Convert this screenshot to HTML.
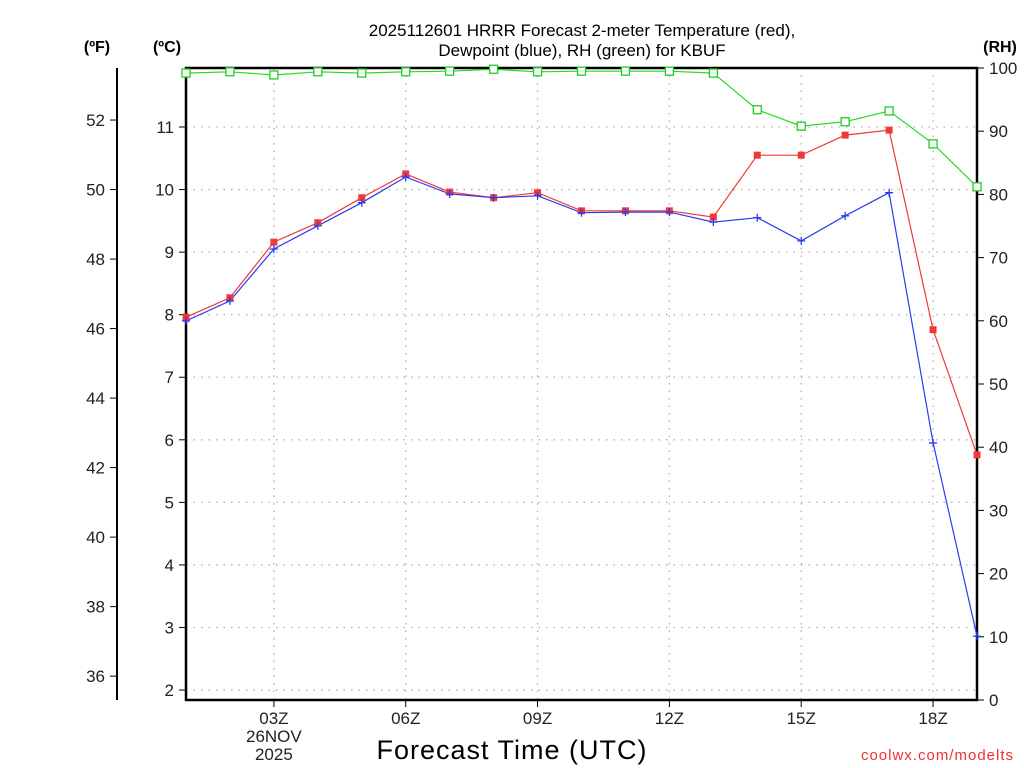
<!DOCTYPE html>
<html><head><meta charset="utf-8"><style>
html,body{margin:0;padding:0;background:#fff;}
svg{display:block;font-family:"Liberation Sans","DejaVu Sans",sans-serif;}
</style></head><body>
<svg id="chart" width="1024" height="768" viewBox="0 0 1024 768" xmlns="http://www.w3.org/2000/svg">
<text x="582" y="36" text-anchor="middle" font-size="17" fill="#000">2025112601 HRRR Forecast 2-meter Temperature (red),</text>
<text x="582" y="56" text-anchor="middle" font-size="17" fill="#000">Dewpoint (blue), RH (green) for KBUF</text>
<text x="97" y="52" text-anchor="middle" font-size="16" font-weight="bold">(ºF)</text>
<text x="167" y="52" text-anchor="middle" font-size="16" font-weight="bold">(ºC)</text>
<text x="1000" y="52" text-anchor="middle" font-size="16" font-weight="bold">(RH)</text>
<text x="512" y="759" text-anchor="middle" font-size="27" letter-spacing="1">Forecast Time (UTC)</text>
<text x="1014" y="760" text-anchor="end" font-size="15" fill="#f03030" letter-spacing="1">coolwx.com/modelts</text>
<g id="grid"></g><g id="axes"></g><g id="series"></g>
</svg>
<script>
const hours=[1,2,3,4,5,6,7,8,9,10,11,12,13,14,15,16,17,18,19];
const tempC=[7.96,8.27,9.16,9.47,9.87,10.25,9.96,9.87,9.95,9.66,9.66,9.66,9.56,10.55,10.55,10.87,10.95,7.76,5.76];
const dewC=[7.9,8.22,9.05,9.42,9.79,10.2,9.93,9.87,9.9,9.63,9.64,9.64,9.48,9.55,9.18,9.58,9.95,5.95,2.86];
const rh=[99.2,99.4,98.9,99.4,99.2,99.4,99.5,99.8,99.4,99.5,99.5,99.5,99.2,93.4,90.8,91.5,93.2,88.0,81.2];
const xTicks=[3,6,9,12,15,18];
const xLabels=["03Z","06Z","09Z","12Z","15Z","18Z"];
const cTicks=[2,3,4,5,6,7,8,9,10,11];
const fTicks=[36,38,40,42,44,46,48,50,52];
const rhTicks=[0,10,20,30,40,50,60,70,80,90,100];

const L=186,R=977,T=68,B=700;
const NS="http://www.w3.org/2000/svg";
const x=h=>L+(h-1)*(R-L)/18;
const yC=c=>127+(11-c)*62.56;
const yF=f=>yC((f-32)*5/9);
const yRH=v=>B-v*(B-T)/100;
function mk(tag,attrs,parent,txt){const e=document.createElementNS(NS,tag);for(const k in attrs)e.setAttribute(k,attrs[k]);if(txt!==undefined)e.textContent=txt;parent.appendChild(e);return e;}
const grid=document.getElementById('grid'),axes=document.getElementById('axes'),ser=document.getElementById('series');
const g='#b0b0b0';
cTicks.forEach(c=>{const y=yC(c);
 const ln=mk('line',{x1:L,x2:R,y1:y,y2:y,stroke:g,'stroke-width':1.3,'stroke-dasharray':'1.5,6'},grid);
 
 mk('line',{x1:L-7,x2:L,y1:y,y2:y,stroke:'#000','stroke-width':1},axes);
 const t=mk('text',{x:L-12,y:y+6,'text-anchor':'end','font-size':17,fill:'#222'},axes,c);
 });
xTicks.forEach((h,i)=>{const xx=x(h);
 const ln=mk('line',{x1:xx,x2:xx,y1:T,y2:B,stroke:g,'stroke-width':1.3,'stroke-dasharray':'1.5,6'},grid);
 
 mk('line',{x1:xx,x2:xx,y1:B,y2:B+7,stroke:'#000','stroke-width':1},axes);
 const t=mk('text',{x:xx,y:B+24,'text-anchor':'middle','font-size':17,fill:'#222'},axes,xLabels[i]);
 });
const d1=mk('text',{x:x(3),y:B+42,'text-anchor':'middle','font-size':17,fill:'#222'},axes,'26NOV');

const d2=mk('text',{x:x(3),y:B+60,'text-anchor':'middle','font-size':17,fill:'#222'},axes,'2025');

mk('line',{x1:117,x2:117,y1:T,y2:B,stroke:'#000','stroke-width':2},axes);
fTicks.forEach(f=>{const y=yF(f);
 mk('line',{x1:110,x2:117,y1:y,y2:y,stroke:'#000','stroke-width':1},axes);
 const t=mk('text',{x:105,y:y+6,'text-anchor':'end','font-size':17,fill:'#222'},axes,f);
 });
rhTicks.forEach(v=>{const y=yRH(v);
 mk('line',{x1:R,x2:R+7,y1:y,y2:y,stroke:'#000','stroke-width':1},axes);
 const t=mk('text',{x:R+12,y:y+6,'text-anchor':'start','font-size':17,fill:'#222'},axes,v);
 });
const box=mk('rect',{x:L,y:T,width:R-L,height:B-T,fill:'none',stroke:'#000','stroke-width':2.5},axes);


function line(vals,yf,col,name){
 const pts=vals.map((v,i)=>x(hours[i]).toFixed(1)+','+yf(v).toFixed(1)).join(' ');
 const p=mk('polyline',{points:pts,fill:'none',stroke:col,'stroke-width':1.2},ser);
 }
line(rh,yRH,'#22dd22','rh-line');
line(tempC,yC,'#f03838','temperature-line');
line(dewC,yC,'#2a3cf0','dewpoint-line');
rh.forEach((v,i)=>{const m=mk('rect',{x:x(hours[i])-4,y:yRH(v)-4,width:8,height:8,fill:'#fff',stroke:'#22cc22','stroke-width':1.3},ser);
 });
tempC.forEach((v,i)=>{const m=mk('rect',{x:x(hours[i])-3.5,y:yC(v)-3.5,width:7,height:7,fill:'#f03838'},ser);
 });
dewC.forEach((v,i)=>{const xx=x(hours[i]),yy=yC(v);
 const m=mk('path',{d:`M${xx-4},${yy}H${xx+4}M${xx},${yy-4}V${yy+4}`,stroke:'#2a3cf0','stroke-width':1.3},ser);
 });
</script>
</body></html>
